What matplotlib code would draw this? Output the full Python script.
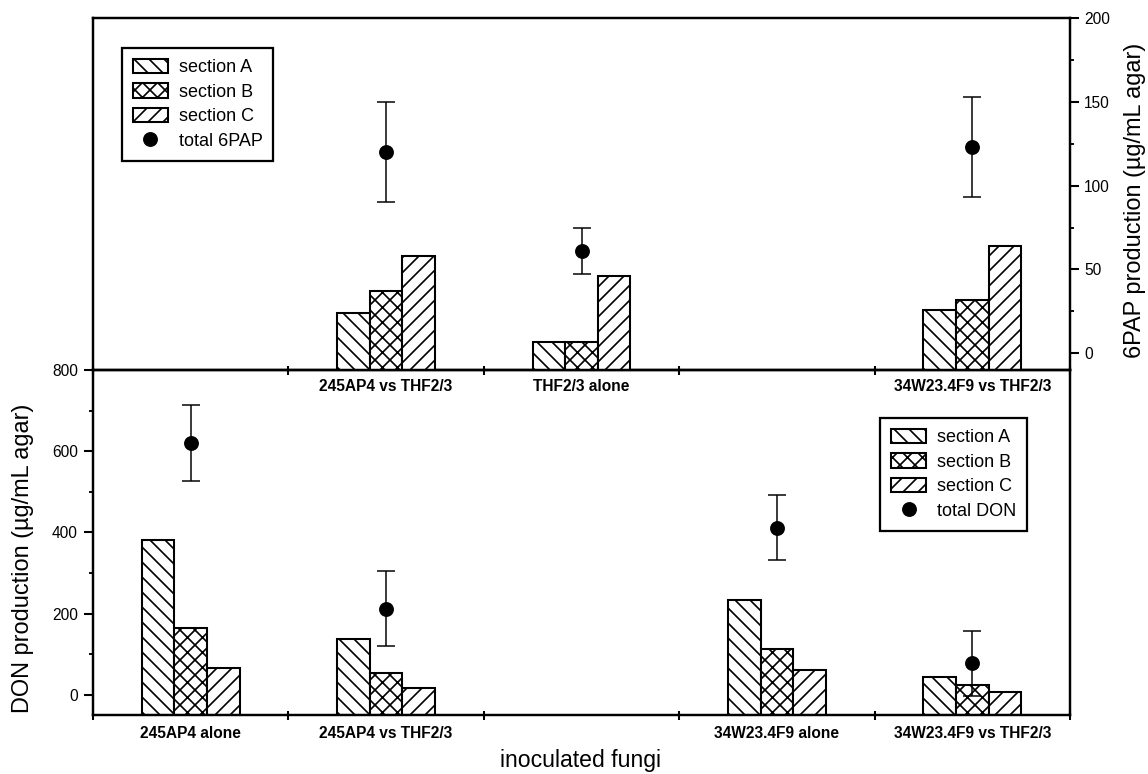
import matplotlib
matplotlib.use("Agg")
import matplotlib.pyplot as plt
import numpy as np

DPI = 135
def pt(px):
    # pixel size -> points at this dpi
    return px * 72.0 / DPI

plt.rcParams['font.family'] = ['Liberation Sans', 'DejaVu Sans']
plt.rcParams['hatch.linewidth'] = 0.9

categories = ['245AP4 alone', '245AP4 vs THF2/3', 'THF2/3 alone',
              '34W23.4F9 alone', '34W23.4F9 vs THF2/3']

# 6PAP (top panel), only for groups that make it
pap_idx = [1, 2, 4]
pap_A = [24, 7, 26]
pap_B = [37, 7, 32]
pap_C = [58, 46, 64]
pap_total = [120, 61, 123]
pap_err = [30, 13.5, 30]

# DON (bottom panel)
don_idx = [0, 1, 3, 4]
don_A = [381, 137, 234, 43]
don_B = [165, 54, 112, 25]
don_C = [66, 17, 60, 7]
don_total = [620, 212, 411, 78]
don_err = [93, 93, 80, 80]

W, H = 1148, 774
fig = plt.figure(figsize=(W / DPI, H / DPI), dpi=DPI)
L, R = 93 / W, 1070 / W
ax_top = fig.add_axes([L, 1 - 370 / H, R - L, (370 - 18) / H])
ax_bot = fig.add_axes([L, 1 - 715 / H, R - L, (715 - 370) / H])
for ax in (ax_top, ax_bot):
    ax.patch.set_visible(False)
ax_top.set_zorder(2)

bw = 1 / 6
hatches = ['\\\\\\', 'xxx', '///']
sec_labels = ['section A', 'section B', 'section C']
lw = 1.1


def draw(ax, idx, vals, total, err, tot_label, ylim):
    ax.set_ylim(*ylim)
    base = ylim[0]  # bars rise from the bottom of the frame, as in the original
    x = np.array(idx, dtype=float)
    handles = []
    for k, (v, h, lab) in enumerate(zip(vals, hatches, sec_labels)):
        b = ax.bar(x + (k - 1) * bw, np.array(v) - base, bw, bottom=base,
                   facecolor='white', edgecolor='black',
                   hatch=h, linewidth=lw, label=lab, zorder=2)
        handles.append(b)
    ax.errorbar(x, total, yerr=err, fmt='none', ecolor='black', elinewidth=0.8,
                capsize=pt(9), capthick=0.8, zorder=3)
    dot, = ax.plot(x, total, 'o', color='black', markersize=pt(13), zorder=4,
                   label=tot_label)
    handles.append(dot)
    ax.set_xlim(-0.5, 4.5)
    ax.set_xticks(np.arange(-0.5, 5, 1))
    ax.set_xticklabels([])
    ax.set_xticks(x, minor=True)
    ax.set_xticklabels([categories[i] for i in idx], minor=True,
                       fontsize=pt(15.5), fontweight='bold')
    ax.tick_params(axis='x', which='major', direction='inout', length=pt(9),
                   width=1.1)
    ax.tick_params(axis='x', which='minor', length=0, pad=pt(9))
    for s in ax.spines.values():
        s.set_linewidth(1.3)
    return handles


h_top = draw(ax_top, pap_idx, [pap_A, pap_B, pap_C], pap_total, pap_err,
             'total 6PAP', (-10, 200))
h_bot = draw(ax_bot, don_idx, [don_A, don_B, don_C], don_total, don_err,
             'total DON', (-50, 800))

# top panel: values on the right axis
ax_top.yaxis.tick_right()
ax_top.set_yticks([0, 50, 100, 150, 200])
ax_top.set_yticks([25, 75, 125, 175], minor=True)
ax_top.tick_params(axis='y', which='major', direction='out', length=pt(9),
                   width=1.1, labelsize=pt(15.5), pad=pt(5))
ax_top.tick_params(axis='y', which='minor', direction='out', length=pt(4),
                   width=1.0)

# bottom panel: values on the left axis
ax_bot.set_yticks([0, 200, 400, 600, 800])
ax_bot.set_yticks([100, 300, 500, 700], minor=True)
ax_bot.tick_params(axis='y', which='major', direction='out', length=pt(9),
                   width=1.1, labelsize=pt(15.5), pad=pt(6))
ax_bot.tick_params(axis='y', which='minor', direction='out', length=pt(4),
                   width=1.0)
ax_bot.tick_params(axis='x', which='minor', pad=pt(11))

leg_kw = dict(fontsize=pt(18), frameon=True, fancybox=False, framealpha=1,
              edgecolor='black', handlelength=1.95, handleheight=0.85,
              handletextpad=0.6, labelspacing=0.4, borderpad=0.6,
              borderaxespad=0)
lg = ax_top.legend(handles=h_top, loc='upper left',
                   bbox_to_anchor=(29 / 977, 1 - 30 / 352), **leg_kw)
lg.get_frame().set_linewidth(1.2)
lg = ax_bot.legend(handles=h_bot, loc='upper right',
                   bbox_to_anchor=((1027 - 93) / 977, 1 - 48 / 345), **leg_kw)
lg.get_frame().set_linewidth(1.2)

fig.text(23 / W, 1 - 558 / H, 'DON production (\u00b5g/mL agar)', rotation=90,
         ha='center', va='center', fontsize=pt(23.5))
fig.text(1135 / W, 1 - 200 / H, '6PAP production (\u00b5g/mL agar)', rotation=90,
         ha='center', va='center', fontsize=pt(23.5))
fig.text(581 / W, 1 - 761 / H, 'inoculated fungi', ha='center', va='center',
         fontsize=pt(23))

fig.savefig('out.png', dpi=DPI)
